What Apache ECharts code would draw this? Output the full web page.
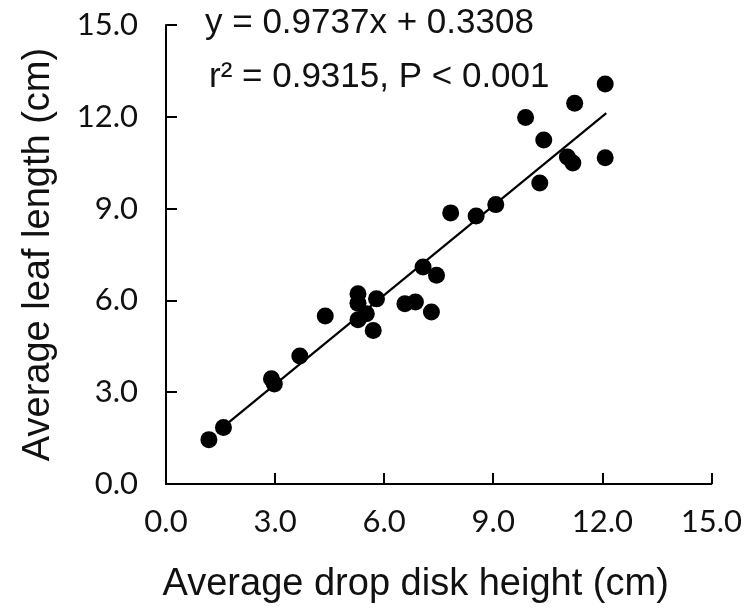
<!DOCTYPE html>
<html>
<head>
<meta charset="utf-8">
<script src="https://cdn.jsdelivr.net/npm/echarts@6/dist/echarts.min.js"></script>
<style>
html,body{margin:0;padding:0;background:#fff;}
#chart{width:745px;height:613px;}
</style>
</head>
<body>
<div id="chart"></div>
<script>
// Data
const diskHeight = [1.18, 1.58, 2.90, 2.98, 3.68, 4.38, 5.28, 5.28, 5.28, 5.51, 5.79, 5.70, 6.57, 6.86,
  7.30, 7.07, 7.44, 7.83, 8.53, 9.07, 9.89, 10.28, 10.39, 11.04, 11.19, 11.24, 12.08, 12.08];
const leafLength = [1.45, 1.85, 3.44, 3.27, 4.18, 5.49, 6.22, 5.91, 5.37, 5.56, 6.05, 5.02, 5.89, 5.95,
  5.62, 7.09, 6.82, 8.86, 8.76, 9.13, 11.98, 9.84, 11.24, 10.69, 10.49, 12.44, 13.07, 10.66];
const xTicks = [0, 3, 6, 9, 12, 15];
const yTicks = [0, 3, 6, 9, 12, 15];
const fitSlope = 0.9737;
const fitIntercept = 0.3308;
const fitRange = [1.70, 12.11];
const eqLine1 = 'y = 0.9737x + 0.3308';
const eqLine2 = 'r\u00B2 = 0.9315, P < 0.001';
const xName = 'Average drop disk height (cm)';
const yName = 'Average leaf length (cm)';

const points = diskHeight.map((x, i) => [x, leafLength[i]]);
const fitLine = fitRange.map(x => [x, fitSlope * x + fitIntercept]);

const chart = echarts.init(document.getElementById('chart'), null, {renderer: 'canvas'});
const axisCommon = {
  type: 'value',
  min: 0, max: 15, interval: 3,
  axisLine: {show: true, lineStyle: {color: '#000', width: 2}},
  axisTick: {show: true, inside: true, length: 11, lineStyle: {color: '#000', width: 2}},
  splitLine: {show: false},
  axisLabel: {
    color: '#111', fontFamily: 'Lato', fontSize: 31,
    formatter: v => v.toFixed(1)
  },
  nameLocation: 'middle',
  nameTextStyle: {color: '#111', fontFamily: 'Liberation Sans', fontSize: 38}
};
chart.setOption({
  animation: false,
  backgroundColor: '#fff',
  title: [
    {text: eqLine1, left: 205, top: 6, padding: 0,
     textStyle: {fontFamily: 'Liberation Sans', fontSize: 35, fontWeight: 'normal', color: '#111'}},
    {text: eqLine2, left: 209, top: 60, padding: 0,
     textStyle: {fontFamily: 'Liberation Sans', fontSize: 35, fontWeight: 'normal', color: '#111'}}
  ],
  grid: {left: 166, right: 33, top: 25, bottom: 129, containLabel: false},
  xAxis: Object.assign({}, axisCommon, {
    name: xName, nameGap: 82,
    axisLabel: Object.assign({}, axisCommon.axisLabel, {margin: 22}),
    nameTextStyle: Object.assign({}, axisCommon.nameTextStyle, {padding: [0, 46, 0, 0]})
  }),
  yAxis: Object.assign({}, axisCommon, {
    name: yName, nameGap: 108,
    axisLabel: Object.assign({}, axisCommon.axisLabel, {margin: 28})
  }),
  series: [
    {
      type: 'line', data: fitLine, showSymbol: false, symbol: 'none',
      lineStyle: {color: '#000', width: 2.2}, z: 1, silent: true
    },
    {
      type: 'scatter', data: points, symbol: 'circle', symbolSize: 17,
      itemStyle: {color: '#000', opacity: 1}, z: 2
    }
  ]
});
</script>
</body>
</html>
